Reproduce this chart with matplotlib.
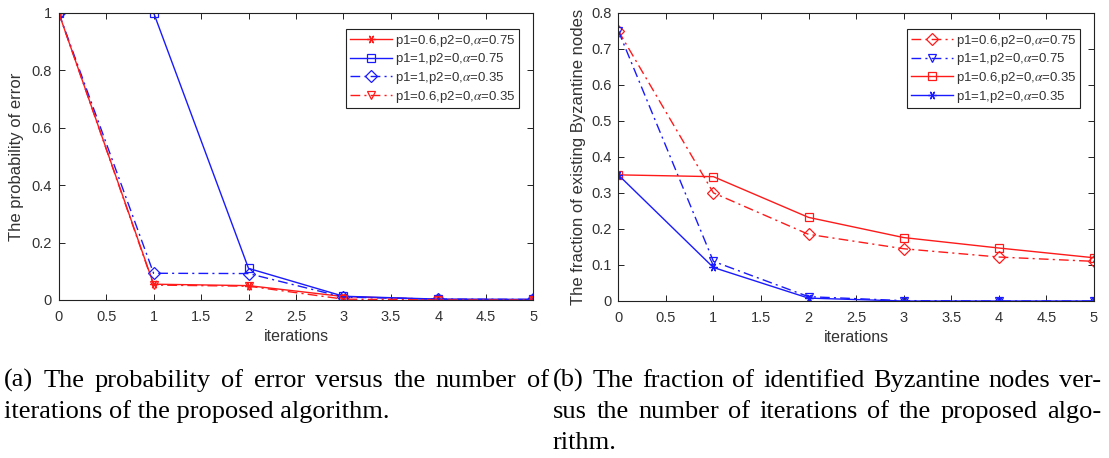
import numpy as np
import matplotlib
matplotlib.use('Agg')
import matplotlib.pyplot as plt

iters = [0, 1, 2, 3, 4, 5]

# (a) probability of error
err_labels = ['p1=0.6,p2=0,$\\alpha$=0.75', 'p1=1,p2=0,$\\alpha$=0.75',
              'p1=1,p2=0,$\\alpha$=0.35', 'p1=0.6,p2=0,$\\alpha$=0.35']
err_a = [1.0, 0.055, 0.050, 0.012, 0.002, 0.001]
err_b = [1.0, 1.0, 0.110, 0.013, 0.003, 0.002]
err_c = [1.0, 0.093, 0.092, 0.010, 0.003, 0.002]
err_d = [1.0, 0.052, 0.048, 0.003, 0.000, 0.000]

# (b) fraction of existing Byzantine nodes
frac_labels = ['p1=0.6,p2=0,$\\alpha$=0.75', 'p1=1,p2=0,$\\alpha$=0.75',
               'p1=0.6,p2=0,$\\alpha$=0.35', 'p1=1,p2=0,$\\alpha$=0.35']
frac_a = [0.75, 0.300, 0.185, 0.145, 0.122, 0.110]
frac_b = [0.75, 0.110, 0.012, 0.001, 0.000, 0.000]
frac_c = [0.35, 0.345, 0.232, 0.176, 0.147, 0.120]
frac_d = [0.35, 0.093, 0.008, 0.000, 0.000, 0.000]

RED = '#ff1a1a'
BLUE = '#1a1aff'
TXT = '#333333'
dd = (0, (7, 3, 1.5, 3))
ast = (6, 2, 90)  # matlab-like asterisk

plt.rcParams['font.family'] = ['Liberation Sans', 'DejaVu Sans']
plt.rcParams['mathtext.fontset'] = 'stix'

fig = plt.figure(figsize=(11.09, 4.58), dpi=100)
ax1 = fig.add_axes([0.0529, 0.345, 0.4280, 0.6273])
ax2 = fig.add_axes([0.5575, 0.3428, 0.4289, 0.6295])

mk = dict(markersize=6, markerfacecolor='none', markeredgewidth=0.9, lw=1.0)
ax1.plot(iters, err_a, color=RED, ls='-', marker=ast, label=err_labels[0], **mk)
ax1.plot(iters, err_b, color=BLUE, ls='-', marker='s', label=err_labels[1], **mk)
ax1.plot(iters, err_c, color=BLUE, ls=dd, marker='D', label=err_labels[2], **mk)
ax1.plot(iters, err_d, color=RED, ls=dd, marker='v', label=err_labels[3], **mk)

ax2.plot(iters, frac_a, color=RED, ls=dd, marker='D', label=frac_labels[0], **mk)
ax2.plot(iters, frac_b, color=BLUE, ls=dd, marker='v', label=frac_labels[1], **mk)
ax2.plot(iters, frac_c, color=RED, ls='-', marker='s', label=frac_labels[2], **mk)
ax2.plot(iters, frac_d, color=BLUE, ls='-', marker=ast, label=frac_labels[3], **mk)

ax1.set_ylim(0, 1)
ax1.set_yticks(np.arange(0, 1.01, 0.2))
ax1.set_yticklabels(['0', '0.2', '0.4', '0.6', '0.8', '1'])
ax1.set_ylabel('The probability of error', fontsize=12, color=TXT, labelpad=5)
ax2.set_ylim(0, 0.8)
ax2.set_yticks(np.arange(0, 0.81, 0.1))
ax2.set_yticklabels(['0', '0.1', '0.2', '0.3', '0.4', '0.5', '0.6', '0.7', '0.8'])
ax2.set_ylabel('The fraction of existing Byzantine nodes', fontsize=12, color=TXT, labelpad=3.5)

for ax in (ax1, ax2):
    ax.set_xlim(0, 5)
    ax.set_xticks(np.arange(0, 5.01, 0.5))
    ax.set_xticklabels(['0', '0.5', '1', '1.5', '2', '2.5', '3', '3.5', '4', '4.5', '5'])
    ax.set_xlabel('iterations', fontsize=11.5, color=TXT, labelpad=4)
    ax.tick_params(direction='in', top=True, right=True, length=4, width=0.7,
                   labelsize=10.5, labelcolor=TXT, colors='#222222')
    ax.tick_params(axis='x', pad=7)
    ax.tick_params(axis='y', pad=5)
    for s in ax.spines.values():
        s.set_linewidth(0.8)
        s.set_color('#222222')
    leg = ax.legend(loc='upper right', bbox_to_anchor=(0.970, 0.943), fontsize=9.5,
                    fancybox=False, framealpha=1, edgecolor='#222222',
                    handlelength=3.2, handletextpad=0.2, borderpad=0.28,
                    labelspacing=0.2, borderaxespad=0)
    leg.get_frame().set_linewidth(0.8)
    for t in leg.get_texts():
        t.set_color(TXT)

# captions, justified like the LaTeX source
cap = dict(fontsize=19, family=['Liberation Serif', 'DejaVu Serif'], color='black', va='baseline')
renderer = fig.canvas.get_renderer()


def caption_line(x0, x1, y, line, justify):
    if not justify:
        fig.text(x0 / 1109, 1 - y / 458, line, **cap)
        return
    words = line.split(' ')
    objs = [fig.text(0, 1 - y / 458, w, **cap) for w in words]
    widths = [o.get_window_extent(renderer).width for o in objs]
    gap = (x1 - x0 - sum(widths)) / (len(words) - 1)
    x = x0
    for o, w in zip(objs, widths):
        o.set_x(x / 1109)
        x += w + gap


caption_line(4, 549, 387, '(a) The probability of error versus the number of', True)
caption_line(4, 549, 418, 'iterations of the proposed algorithm.', False)
caption_line(553, 1101, 387, '(b) The fraction of identified Byzantine nodes ver-', True)
caption_line(553, 1101, 418, 'sus the number of iterations of the proposed algo-', True)
caption_line(553, 1101, 449, 'rithm.', False)

fig.savefig('out.png', dpi=100)
